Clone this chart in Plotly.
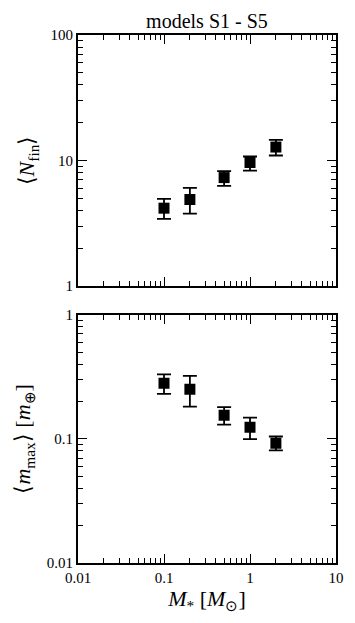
import plotly.graph_objects as go

mass = [0.1, 0.2, 0.5, 1.0, 2.0]
n_fin = [4.17, 4.89, 7.31, 9.64, 12.8]
n_fin_hi = [4.94, 6.05, 8.22, 10.76, 14.6]
n_fin_lo = [3.43, 3.78, 6.28, 8.32, 10.96]
m_max = [0.281, 0.251, 0.155, 0.124, 0.0923]
m_max_hi = [0.331, 0.321, 0.180, 0.148, 0.1044]
m_max_lo = [0.230, 0.182, 0.130, 0.0995, 0.0806]

FONT = "Liberation Serif"

def err(v, hi, lo):
    return [h - x for x, h in zip(v, hi)], [x - l for x, l in zip(v, lo)]

up1, dn1 = err(n_fin, n_fin_hi, n_fin_lo)
up2, dn2 = err(m_max, m_max_hi, m_max_lo)

fig = go.Figure()
common = dict(mode="markers", marker=dict(symbol="square", size=11, color="black"), showlegend=False)
fig.add_trace(go.Scatter(x=mass, y=n_fin, xaxis="x", yaxis="y",
                         error_y=dict(type="data", symmetric=False, array=up1, arrayminus=dn1,
                                      color="black", thickness=1.8, width=7), **common))
fig.add_trace(go.Scatter(x=mass, y=m_max, xaxis="x2", yaxis="y2",
                         error_y=dict(type="data", symmetric=False, array=up2, arrayminus=dn2,
                                      color="black", thickness=1.8, width=7), **common))

def axstyle():
    return dict(type="log", showline=True, linecolor="black", linewidth=1.8, mirror="allticks",
                ticks="inside", ticklen=9, tickwidth=1.4, tickcolor="black",
                tickmode="linear", tick0=0, dtick=1,
                showgrid=False, zeroline=False, automargin=False,
                minor=dict(ticks="inside", ticklen=5, tickwidth=1.3, tickcolor="black",
                           showgrid=False, dtick="D1"),
                tickfont=dict(family=FONT, size=15, color="black"))

fig.update_layout(
    width=355, height=623,
    margin=dict(l=78, r=19, t=35, b=60),
    plot_bgcolor="white", paper_bgcolor="white",
    font=dict(family=FONT, color="black"),
    title=dict(text="models S1 - S5", x=0.583, xanchor="center", y=0.966, yanchor="middle",
               font=dict(family=FONT, size=20, color="black")),
    xaxis=dict(axstyle(), range=[-2, 1], domain=[0, 1], anchor="y", showticklabels=False),
    yaxis=dict(axstyle(), range=[0, 2], domain=[0.5246, 1], anchor="x",
               title=dict(text="⟨<i>N</i><sub>fin</sub>⟩", font=dict(family=FONT, size=22), standoff=10)),
    xaxis2=dict(axstyle(), range=[-2, 1], domain=[0, 1], anchor="y2",
                title=dict(text="<i>M</i><sub>*</sub> [<i>M</i><sub>⊙</sub>]", font=dict(family=FONT, size=22), standoff=4)),
    yaxis2=dict(axstyle(), range=[-2, 0], domain=[0, 0.4703], anchor="x2",
                title=dict(text="⟨<i>m</i><sub>max</sub>⟩ [<i>m</i><sub>⊕</sub>]", font=dict(family=FONT, size=22), standoff=10)),
)

fig.write_html("out.html", config={"displayModeBar": False},
               post_script="document.body.style.margin='0';")
